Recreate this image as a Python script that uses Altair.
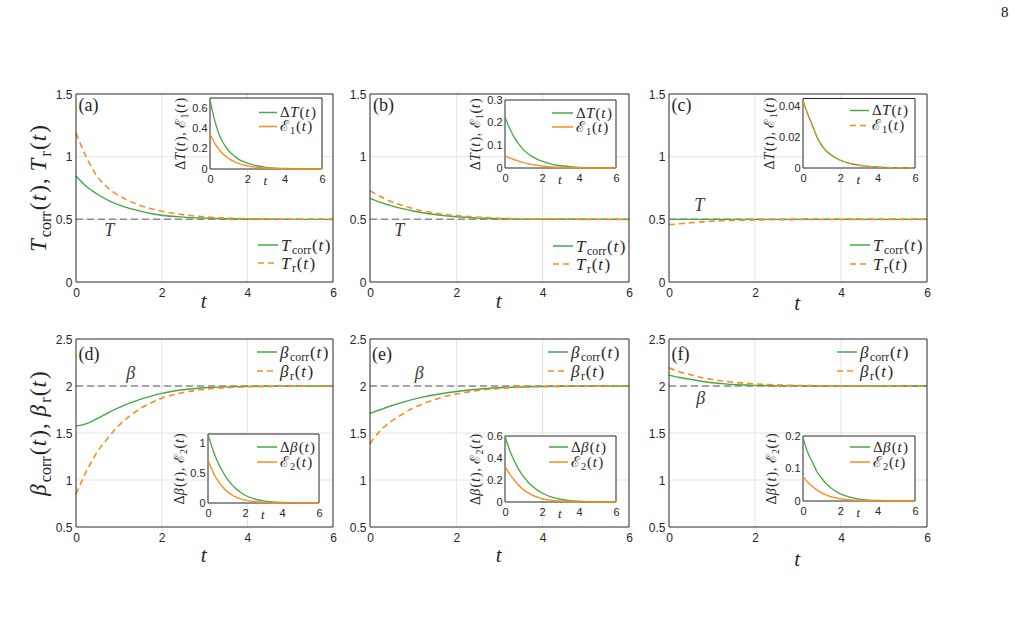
import altair as alt
import pandas as pd

W, H = 1017, 629

# ---------------- data ----------------
T = [0, 0.25, 0.5, 0.75, 1, 1.25, 1.5, 1.75, 2, 2.5, 3, 3.5, 4, 5, 6]

Tcorr_a = [0.846, 0.76, 0.70, 0.652, 0.615, 0.587, 0.565, 0.547, 0.533, 0.518, 0.51, 0.505, 0.502, 0.5, 0.5]
Tr_a    = [1.188, 0.99, 0.84, 0.75, 0.69, 0.645, 0.61, 0.585, 0.565, 0.537, 0.52, 0.51, 0.505, 0.501, 0.5]
dT_a    = [0.68, 0.48, 0.335, 0.245, 0.18, 0.135, 0.1, 0.075, 0.057, 0.032, 0.017, 0.009, 0.005, 0.001, 0.0]
E1_a    = [0.347, 0.255, 0.19, 0.14, 0.105, 0.078, 0.058, 0.043, 0.031, 0.017, 0.009, 0.005, 0.002, 0.0, 0.0]

Tcorr_b = [0.668, 0.635, 0.607, 0.585, 0.566, 0.551, 0.539, 0.529, 0.521, 0.511, 0.505, 0.502, 0.501, 0.5, 0.5]
Tr_b    = [0.727, 0.68, 0.64, 0.61, 0.585, 0.565, 0.55, 0.538, 0.53, 0.517, 0.509, 0.505, 0.503, 0.5, 0.5]
dT_b    = [0.224, 0.175, 0.135, 0.105, 0.08, 0.063, 0.049, 0.038, 0.03, 0.017, 0.01, 0.006, 0.003, 0.001, 0.0]
E1_b    = [0.054, 0.045, 0.037, 0.03, 0.024, 0.019, 0.015, 0.012, 0.009, 0.005, 0.003, 0.002, 0.001, 0.0, 0.0]

Tcorr_c = [0.5, 0.5, 0.5, 0.5, 0.5, 0.5, 0.5, 0.5, 0.5, 0.5, 0.5, 0.5, 0.5, 0.5, 0.5]
Tr_c    = [0.4565, 0.465, 0.4723, 0.48, 0.4853, 0.489, 0.4915, 0.4935, 0.495, 0.497, 0.4982, 0.499, 0.4994, 0.4998, 0.5]
dT_c    = [0.0435, 0.035, 0.0277, 0.02, 0.0147, 0.011, 0.0085, 0.0065, 0.005, 0.003, 0.0018, 0.001, 0.0006, 0.0002, 0.0]
E1_c    = [0.0435, 0.035, 0.0277, 0.02, 0.0147, 0.011, 0.0085, 0.0065, 0.005, 0.003, 0.0018, 0.001, 0.0006, 0.0002, 0.0]

bcorr_d = [1.573, 1.60, 1.655, 1.715, 1.77, 1.818, 1.858, 1.893, 1.922, 1.96, 1.981, 1.991, 1.996, 1.999, 2.0]
br_d    = [0.85, 1.1, 1.3, 1.45, 1.58, 1.68, 1.76, 1.82, 1.87, 1.93, 1.965, 1.982, 1.991, 1.998, 2.0]
dB_d    = [1.15, 0.9, 0.7, 0.55, 0.42, 0.32, 0.24, 0.18, 0.13, 0.07, 0.035, 0.018, 0.009, 0.002, 0.0]
E2_d    = [0.72, 0.53, 0.39, 0.285, 0.2, 0.145, 0.1, 0.072, 0.05, 0.025, 0.012, 0.006, 0.003, 0.001, 0.0]

bcorr_e = [1.708, 1.75, 1.79, 1.825, 1.857, 1.884, 1.907, 1.926, 1.942, 1.966, 1.981, 1.99, 1.995, 1.999, 2.0]
br_e    = [1.388, 1.53, 1.626, 1.70, 1.765, 1.815, 1.855, 1.89, 1.915, 1.952, 1.974, 1.987, 1.993, 1.998, 2.0]
dB_e    = [0.6, 0.47, 0.375, 0.295, 0.23, 0.18, 0.14, 0.108, 0.082, 0.046, 0.025, 0.013, 0.007, 0.002, 0.0]
E2_e    = [0.327, 0.255, 0.2, 0.15, 0.11, 0.085, 0.06, 0.045, 0.03, 0.017, 0.008, 0.004, 0.002, 0.0, 0.0]

bcorr_f = [2.116, 2.09, 2.07, 2.05, 2.035, 2.025, 2.016, 2.011, 2.007, 2.003, 2.001, 2.0005, 2.0, 2.0, 2.0]
br_f    = [2.195, 2.15, 2.12, 2.09, 2.07, 2.053, 2.04, 2.03, 2.022, 2.012, 2.006, 2.003, 2.0015, 2.0004, 2.0]
dB_f    = [0.195, 0.15, 0.12, 0.09, 0.07, 0.053, 0.04, 0.03, 0.022, 0.012, 0.006, 0.003, 0.0015, 0.0004, 0.0]
E2_f    = [0.077, 0.058, 0.045, 0.034, 0.025, 0.019, 0.013, 0.01, 0.007, 0.0035, 0.002, 0.001, 0.0005, 0.0, 0.0]

X_TICKS = [0, 2, 4, 6]

# ---------------- style ----------------
GREEN = "#45a845"
ORANGE = "#ff8a1e"
INK = "#262626"
GRID = "#e3e3e3"
REFC = "#8c8c8c"
SERIF = "Liberation Serif, DejaVu Serif, serif"
SANS = "Liberation Sans, Arial, Helvetica, sans-serif"

RM = {'(': .333, ')': .333, ',': .25, ' ': .25, 'a': .444, 'b': .5, 'c': .444, 'd': .5,
      'e': .444, 'f': .333, 'o': .5, 'r': .333, '1': .5, '2': .5, '8': .5, 'Δ': .612, 'ℰ': .62}
IT = {'T': .556, 't': .278, 'β': .5}


def seg_w(txt, it, fs):
    return sum((IT if it else RM).get(ch, .5) for ch in txt) * fs


def label(segs, x, y, size, angle=0, align='left', color=INK):
    parts, total = [], 0.0
    for txt, st in segs:
        sub = st.startswith('s')
        it = st.endswith('i')
        fs = size * 0.7 if sub else size
        parts.append((txt, it, fs, sub, total))
        gap = (0.09 if it else 0.05) * size
        total += seg_w(txt, it, fs) + gap
    start = {'left': 0, 'center': -total / 2, 'right': -total}[align]
    rows = []
    for txt, it, fs, sub, pos in parts:
        shift = size * 0.22 if sub else 0
        p = start + pos
        if angle == 0:
            px, py = x + p, y + shift
        else:
            px, py = x + shift, y - p
        rows.append(dict(px=px, py=py, text=txt, size=fs, angle=angle, it=it, color=color))
    return rows


def fx(px, xr):
    return (px - xr[0]) * 6.0 / (xr[1] - xr[0])


def fy(py, yr, dom):
    return dom[0] + (yr[0] - py) * (dom[1] - dom[0]) / (yr[0] - yr[1])


def tsym(k):
    return 'T' if k in 'abc' else 'β'


MAIN = {
    'a': dict(xr=(76, 333), yr=(282, 94), ydom=(0, 1.5), yticks=[0, 0.5, 1, 1.5], ref=0.5,
              g=Tcorr_a, o=Tr_a, leg=(258, 278, 281), legy=(245, 263), tag=(78.5, 111),
              refl=(110, 236), xt=(204.5, 308), ytitle=(46, 188)),
    'b': dict(xr=(370, 629), yr=(282, 94), ydom=(0, 1.5), yticks=[0, 0.5, 1, 1.5], ref=0.5,
              g=Tcorr_b, o=Tr_b, leg=(553, 573, 576), legy=(246, 264), tag=(373, 111),
              refl=(400, 236), xt=(499.5, 308), ytitle=None),
    'c': dict(xr=(669, 927), yr=(282, 94), ydom=(0, 1.5), yticks=[0, 0.5, 1, 1.5], ref=0.5,
              g=Tcorr_c, o=Tr_c, leg=(850, 870, 873), legy=(245, 264), tag=(671.5, 111),
              refl=(700, 211), xt=(798, 310), ytitle=None),
    'd': dict(xr=(76, 333), yr=(527, 339), ydom=(0.5, 2.5), yticks=[0.5, 1, 1.5, 2, 2.5], ref=2.0,
              g=bcorr_d, o=br_d, leg=(257, 277, 280), legy=(352, 371), tag=(78.5, 359.5),
              refl=(131.5, 379), xt=(204.5, 562), ytitle=(46, 433)),
    'e': dict(xr=(370, 629), yr=(527, 339), ydom=(0.5, 2.5), yticks=[0.5, 1, 1.5, 2, 2.5], ref=2.0,
              g=bcorr_e, o=br_e, leg=(548, 568, 571), legy=(352, 371), tag=(372, 359.5),
              refl=(420, 379), xt=(499.5, 562), ytitle=None),
    'f': dict(xr=(669, 927), yr=(527, 339), ydom=(0.5, 2.5), yticks=[0.5, 1, 1.5, 2, 2.5], ref=2.0,
              g=bcorr_f, o=br_f, leg=(837, 857, 860), legy=(352, 371), tag=(671.5, 359.5),
              refl=(701.5, 404), xt=(798, 566), ytitle=None),
}

INSET = {
    'a': dict(xr=(210, 322), yr=(169, 98), ydom=(0, 0.7), yticks=[0, 0.2, 0.4, 0.6],
              g=dT_a, o=E1_a, dash=False, leg=(259, 277, 280), legy=(112.5, 126.5), toff=25.5),
    'b': dict(xr=(505, 616), yr=(168, 100), ydom=(0, 0.3), yticks=[0, 0.1, 0.2, 0.3],
              g=dT_b, o=E1_b, dash=False, leg=(552, 573, 576), legy=(113, 127), toff=25),
    'c': dict(xr=(803, 915), yr=(168, 98.5), ydom=(0, 0.045), yticks=[0, 0.02, 0.04],
              g=dT_c, o=E1_c, dash=True, leg=(850, 869, 872), legy=(110.5, 125.5), toff=29.5),
    'd': dict(xr=(208, 319), yr=(503, 434), ydom=(0, 1.15), yticks=[0, 0.5, 1],
              g=dB_d, o=E2_d, dash=False, leg=(257, 277, 280), legy=(447, 462), toff=24),
    'e': dict(xr=(505, 616), yr=(502, 436), ydom=(0, 0.6), yticks=[0, 0.2, 0.4, 0.6],
              g=dB_e, o=E2_e, dash=False, leg=(549, 568, 571), legy=(447, 462), toff=25),
    'f': dict(xr=(803, 915), yr=(501, 436), ydom=(0, 0.2), yticks=[0, 0.1, 0.2],
              g=dB_f, o=E2_f, dash=False, leg=(850, 870, 873), legy=(447, 462), toff=27),
}


def text_layers(rows, X, Y, xr, yr, ydom):
    df = pd.DataFrame(rows)
    df['x'] = [fx(v, xr) for v in df.px]
    df['y'] = [fy(v, yr, ydom) for v in df.py]
    out = []
    for it in (True, False):
        sub = df[df.it == it][['x', 'y', 'text', 'size', 'angle', 'color']]
        if len(sub) == 0:
            continue
        out.append(alt.Chart(sub).mark_text(
            align='left', baseline='alphabetic', font=SERIF,
            fontStyle='italic' if it else 'normal').encode(
            x=X('x'), y=Y('y'), text='text:N',
            size=alt.Size('size:Q', scale=None),
            angle=alt.Angle('angle:Q', scale=None),
            color=alt.Color('color:N', scale=None)))
    return out


def axes(xr, yr, yticks, fs, xpad, ypad):
    ax = alt.Axis(values=X_TICKS, orient='bottom', offset=yr[0] - H, grid=False, domain=False,
                  ticks=False, labelFont=SANS, labelFontSize=fs, labelColor=INK, labelPadding=xpad,
                  labelFlush=False, labelOverlap=False, title=None, format='~g', zindex=1)
    ay = alt.Axis(values=yticks, orient='left', offset=-xr[0], grid=False, domain=False,
                  ticks=False, labelFont=SANS, labelFontSize=fs, labelColor=INK, labelPadding=ypad,
                  labelFlush=False, labelOverlap=False, title=None, format='~g', zindex=1)
    return ax, ay


def build_main(k):
    c = MAIN[k]
    xr, yr, dom = c['xr'], c['yr'], c['ydom']
    sx = alt.Scale(domain=[0, 6], range=list(xr), nice=False, zero=False)
    sy = alt.Scale(domain=list(dom), range=list(yr), nice=False, zero=False)
    ax, ay = axes(xr, yr, c['yticks'], 12, 5, 4)
    X = lambda f: alt.X(f, type='quantitative', scale=sx, axis=ax)
    Y = lambda f: alt.Y(f, type='quantitative', scale=sy, axis=ay)

    gv = pd.DataFrame({'v': X_TICKS[1:-1], 'lo': dom[0], 'hi': dom[1]})
    gh = pd.DataFrame({'v': c['yticks'][1:-1], 'lo': 0, 'hi': 6})
    ref = pd.DataFrame({'v': [c['ref']], 'lo': [0], 'hi': [6]})
    box = pd.DataFrame({'x': [0], 'x2': [6], 'y': [dom[0]], 'y2': [dom[1]]})
    cur = pd.DataFrame({'t': T, 'g': c['g'], 'o': c['o']})

    l0, l1, tx = c['leg']
    ly0, ly1 = c['legy']
    leg = pd.DataFrame({'x': [fx(l0, xr)] * 2, 'x2': [fx(l1, xr)] * 2,
                        'y': [fy(ly0, yr, dom), fy(ly1, yr, dom)]})

    layers = [
        alt.Chart(gv).mark_rule(color=GRID, strokeWidth=1).encode(x=X('v'), y=Y('lo'), y2='hi'),
        alt.Chart(gh).mark_rule(color=GRID, strokeWidth=1).encode(y=Y('v'), x=X('lo'), x2='hi'),
        alt.Chart(ref).mark_rule(color=REFC, strokeWidth=1.5, strokeDash=[7, 4]).encode(
            y=Y('v'), x=X('lo'), x2='hi'),
        alt.Chart(cur).mark_line(color=GREEN, strokeWidth=1.4, interpolate='monotone').encode(
            x=X('t'), y=Y('g')),
        alt.Chart(cur).mark_line(color=ORANGE, strokeWidth=1.6, strokeDash=[6, 4],
                                 interpolate='monotone').encode(x=X('t'), y=Y('o')),
        alt.Chart(box).mark_rect(fillOpacity=0, stroke=INK, strokeWidth=1).encode(
            x=X('x'), x2='x2', y=Y('y'), y2='y2'),
        alt.Chart(leg.iloc[[0]]).mark_rule(color=GREEN, strokeWidth=1.5).encode(
            x=X('x'), x2='x2', y=Y('y')),
        alt.Chart(leg.iloc[[1]]).mark_rule(color=ORANGE, strokeWidth=1.6, strokeDash=[6, 4]).encode(
            x=X('x'), x2='x2', y=Y('y')),
    ]

    s = tsym(k)
    rows = []
    rows += label([(s, 'i'), ('corr', 'sr'), ('(', 'r'), ('t', 'i'), (')', 'r')], tx, ly0 + 5.5, 17)
    rows += label([(s, 'i'), ('r', 'sr'), ('(', 'r'), ('t', 'i'), (')', 'r')], tx, ly1 + 5.5, 17)
    rows += label([('(' + k + ')', 'r')], c['tag'][0], c['tag'][1], 18)
    rows += label([(s, 'i')], c['refl'][0], c['refl'][1], 18, align='center', color='#3a3a3a')
    rows += label([('t', 'i')], c['xt'][0], c['xt'][1], 21, align='center')
    if c['ytitle']:
        rows += label([(s, 'i'), ('corr', 'sr'), ('(', 'r'), ('t', 'i'), (')', 'r'), (', ', 'r'),
                       (s, 'i'), ('r', 'sr'), ('(', 'r'), ('t', 'i'), (')', 'r')],
                      c['ytitle'][0], c['ytitle'][1], 23, angle=270, align='center')
    if k == 'c':
        rows += label([('8', 'r')], 1005, 17, 15, align='center', color='#111111')
    layers += text_layers(rows, X, Y, xr, yr, dom)
    return alt.layer(*layers)


def build_inset(k):
    c = INSET[k]
    xr, yr, dom = c['xr'], c['yr'], c['ydom']
    sx = alt.Scale(domain=[0, 6], range=list(xr), nice=False, zero=False)
    sy = alt.Scale(domain=list(dom), range=list(yr), nice=False, zero=False)
    ax, ay = axes(xr, yr, c['yticks'], 11, 4, 3)
    X = lambda f: alt.X(f, type='quantitative', scale=sx, axis=ax)
    Y = lambda f: alt.Y(f, type='quantitative', scale=sy, axis=ay)

    box = pd.DataFrame({'x': [0], 'x2': [6], 'y': [dom[0]], 'y2': [dom[1]]})
    cur = pd.DataFrame({'t': T, 'g': c['g'], 'o': c['o']})
    l0, l1, tx = c['leg']
    ly0, ly1 = c['legy']
    leg = pd.DataFrame({'x': [fx(l0, xr)] * 2, 'x2': [fx(l1, xr)] * 2,
                        'y': [fy(ly0, yr, dom), fy(ly1, yr, dom)]})
    odash = [6, 4] if c['dash'] else [1, 0]

    layers = [
        alt.Chart(box).mark_rect(fill='white', stroke=INK, strokeWidth=1).encode(
            x=X('x'), x2='x2', y=Y('y'), y2='y2'),
        alt.Chart(cur).mark_line(color=GREEN, strokeWidth=1.3, interpolate='monotone').encode(
            x=X('t'), y=Y('g')),
        alt.Chart(cur).mark_line(color=ORANGE, strokeWidth=1.4, strokeDash=odash,
                                 interpolate='monotone').encode(x=X('t'), y=Y('o')),
        alt.Chart(leg.iloc[[0]]).mark_rule(color=GREEN, strokeWidth=1.5).encode(
            x=X('x'), x2='x2', y=Y('y')),
        alt.Chart(leg.iloc[[1]]).mark_rule(color=ORANGE, strokeWidth=1.5, strokeDash=odash).encode(
            x=X('x'), x2='x2', y=Y('y')),
    ]
    top = k in 'abc'
    sym = 'T' if top else 'β'
    n = '1' if top else '2'
    rows = []
    rows += label([('Δ', 'r'), (sym, 'i'), ('(', 'r'), ('t', 'i'), (')', 'r')], tx, ly0 + 4.5, 15)
    rows += label([('ℰ', 'r'), (n, 'sr'), ('(', 'r'), ('t', 'i'), (')', 'r')], tx, ly1 + 4.5, 15)
    rows += label([('Δ', 'r'), (sym, 'i'), ('(', 'r'), ('t', 'i'), (')', 'r'), (', ', 'r'),
                   ('ℰ', 'r'), (n, 'sr'), ('(', 'r'), ('t', 'i'), (')', 'r')],
                  xr[0] - c['toff'], (yr[0] + yr[1]) / 2, 14, angle=270, align='center')
    tpx = xr[0] + (xr[1] - xr[0]) * 0.5
    rows += label([('t', 'i')], tpx, yr[0] + 16, 13, align='center')
    layers += text_layers(rows, X, Y, xr, yr, dom)
    return alt.layer(*layers)


children = []
for k in 'abcdef':
    children.append(build_main(k))
    children.append(build_inset(k))

chart = alt.layer(*children).resolve_scale(x='independent', y='independent').properties(
    width=W, height=H, padding=0,
    autosize=alt.AutoSizeParams(type='none'),
    background='white',
).configure_view(stroke=None)

chart.save("out.html", embed_options={"renderer": "svg", "actions": False})
